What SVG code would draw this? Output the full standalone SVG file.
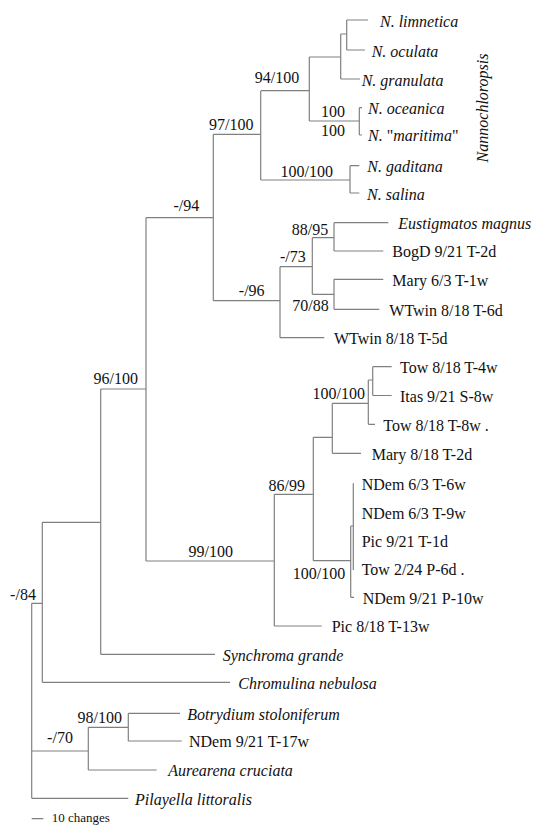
<svg xmlns="http://www.w3.org/2000/svg" width="533" height="825" viewBox="0 0 533 825">
<style>
.e{fill:none;stroke:#808080;stroke-width:1.2}
text{font-family:"Liberation Serif","Times New Roman",serif;font-size:16px;fill:#111}
.i{font-style:italic}
.b{text-anchor:middle}
</style>
<rect width="533" height="825" fill="#fff"/>
<g id="connectors">
<path class="e" d="M346.7,20H368M346.7,50H365M346.7,20V50M340.7,34H346.7M340.7,79H360M340.7,34V79M309.3,57H340.7M359.3,107.7V135M359.3,107.7H362M359.3,135H362M309.3,121H359.3M309.3,57V121M261,90.7H309.3M350,165.7V193M261,180H350M350,165.7H359.3M350,193H359.3M260.7,90.7V180M213.3,134.3H260.7"/>
<path class="e" d="M213.3,134.3V300.7M213.3,300.7H280M280,266.7V337.7M280,266.7H312.3M312.3,237.7V294.3M312.3,237.7H334M334,222.7V251M334,222.7H388.3M334,251H383.3M312.3,294.3H334M334,279.3V309.3M334,279.3H383.3M334,309.3H379.3M280,337.7H324.3"/>
<path class="e" d="M146,217.7V561M146,217.7H213.3M100.7,389H146M146,561H274.3M274.3,494.3V626M274.3,494.3H313.3M274.3,626H321.7M313.3,437.3V560.7M313.3,437.3H332.3M332.3,403.3V453.3M332.3,453.3H361M332.3,403.3H368.3M368.3,380V424.3M368.3,380H372.7M372.7,366.7V395.5M372.7,366.7H391.7M372.7,395.5H391.7M368.3,424.3H375M313.3,560.7H350.7M350.7,526V597.3M350.7,526H353.3M353.3,483.3V570M350.7,597.3H354"/>
<path class="e" d="M100.7,389V654.3M100.7,654.3H215M42.3,522.3H100.7M42.3,522.3V682.3M42.3,682.3H230M31.7,603.3H42.3M31.7,603.3V798.3M31.7,751H88.3M88.3,727.3V770M88.3,727.3H128.3M128.3,713.3V741M128.3,713.3H180M128.3,741H181.7M88.3,770H156.7M31.7,798.3H128.3M31.7,818.7H43.3"/>
</g>
<g id="support-values">
<text class="b" x="277" y="83.4">94/100</text>
<text class="b" x="333" y="117">100</text>
<text class="b" x="333" y="136.4">100</text>
<text class="b" x="306.7" y="177.4">100/100</text>
<text class="b" x="231.3" y="129.7">97/100</text>
<text class="b" x="186.3" y="211.4">-/94</text>
<text class="b" x="251.7" y="296">-/96</text>
<text class="b" x="292.8" y="262.4">-/73</text>
<text class="b" x="310" y="234.7">88/95</text>
<text class="b" x="310.5" y="311.4">70/88</text>
<text class="b" x="115.8" y="383.7">96/100</text>
<text class="b" x="210.8" y="557">99/100</text>
<text class="b" x="286.7" y="491.4">86/99</text>
<text class="b" x="338.8" y="399.4">100/100</text>
<text class="b" x="319" y="578.7">100/100</text>
<text class="b" x="23" y="599.7">-/84</text>
<text class="b" x="60" y="742.7">-/70</text>
<text class="b" x="99.7" y="722.7">98/100</text>
</g>
<g id="n-limnetica"><text class="i" x="380" y="26.5">N. limnetica</text></g>
<g id="n-oculata"><text class="i" x="371.7" y="56.5">N. oculata</text></g>
<g id="n-granulata"><text class="i" x="361.7" y="85.5">N. granulata</text></g>
<g id="n-oceanica"><text class="i" x="368" y="114">N. oceanica</text></g>
<g id="n-maritima"><text x="368" y="141"><tspan class="i">N.</tspan> "<tspan class="i">maritima</tspan>"</text></g>
<g id="n-gaditana"><text class="i" x="367.3" y="172">N. gaditana</text></g>
<g id="n-salina"><text class="i" x="367" y="199.5">N. salina</text></g>
<g id="nannochloropsis"><text class="i b" transform="translate(488,108) rotate(-90)">Nannochloropsis</text></g>
<g id="eustigmatos"><text class="i" x="398.3" y="229">Eustigmatos magnus</text></g>
<g id="bogd"><text x="392.3" y="257">BogD 9/21 T-2d</text></g>
<g id="mary-63"><text x="392.3" y="285.5">Mary 6/3 T-1w</text></g>
<g id="wtwin-6d"><text x="389.3" y="315.5">WTwin 8/18 T-6d</text></g>
<g id="wtwin-5d"><text x="334" y="344">WTwin 8/18 T-5d</text></g>
<g id="tow-4w"><text x="400" y="373">Tow 8/18 T-4w</text></g>
<g id="itas"><text x="400" y="401.5">Itas 9/21 S-8w</text></g>
<g id="tow-8w"><text x="383.3" y="430.5">Tow 8/18 T-8w .</text></g>
<g id="mary-818"><text x="371.7" y="459.5">Mary 8/18 T-2d</text></g>
<g id="ndem-6w"><text x="361.7" y="489.5">NDem 6/3 T-6w</text></g>
<g id="ndem-9w"><text x="361.7" y="518.5">NDem 6/3 T-9w</text></g>
<g id="pic-1d"><text x="361.7" y="547">Pic 9/21 T-1d</text></g>
<g id="tow-6d"><text x="361.7" y="574.5">Tow 2/24 P-6d .</text></g>
<g id="ndem-10w"><text x="362.7" y="603.5">NDem 9/21 P-10w</text></g>
<g id="pic-13w"><text x="331.7" y="632">Pic 8/18 T-13w</text></g>
<g id="synchroma"><text class="i" x="222.7" y="660.5">Synchroma grande</text></g>
<g id="chromulina"><text class="i" x="238.3" y="688.5">Chromulina nebulosa</text></g>
<g id="botrydium"><text class="i" x="187.3" y="719.5">Botrydium stoloniferum</text></g>
<g id="ndem-17w"><text x="189" y="747">NDem 9/21 T-17w</text></g>
<g id="aurearena"><text class="i" x="168.3" y="776">Aurearena cruciata</text></g>
<g id="pilayella"><text class="i" x="135" y="804.5">Pilayella littoralis</text></g>
<g id="scale"><text x="51.7" y="821.5" style="font-size:13px">10 changes</text></g>
</svg>
